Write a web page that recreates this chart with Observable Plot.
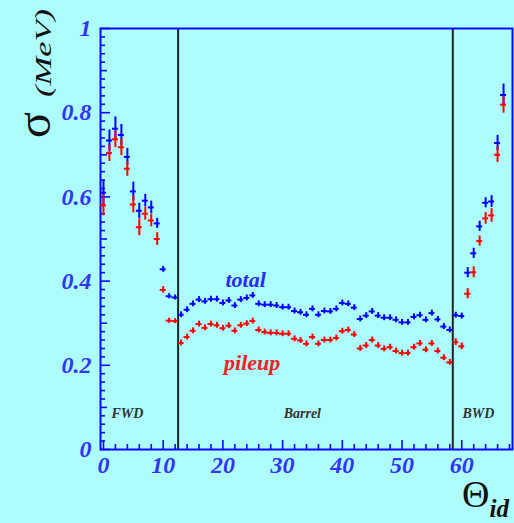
<!DOCTYPE html>
<html>
<head>
<meta charset="utf-8">
<script src="https://cdn.jsdelivr.net/npm/d3@7"></script>
<script src="https://cdn.jsdelivr.net/npm/@observablehq/plot@0.6"></script>
<style>
  html, body { margin: 0; padding: 0; background: #aefdfd; }
  #chart svg { display: block; }
</style>
</head>
<body>
<div id="chart"></div>
<script>
// Crystal index Θ_id
const thetaId = [
   0,  1,  2,  3,  4,  5,  6,  7,  8,  9, 10, 11, 12,
  13, 14, 15, 16, 17, 18, 19, 20, 21, 22, 23, 24, 25, 26, 27, 28, 29, 30,
  31, 32, 33, 34, 35, 36, 37, 38, 39, 40, 41, 42, 43, 44, 45, 46, 47, 48,
  49, 50, 51, 52, 53, 54, 55, 56, 57, 58,
  59, 60, 61, 62, 63, 64, 65, 66, 67
];

// total noise σ (MeV)
const totalSigma = [
  0.610, 0.734, 0.762, 0.747, 0.695, 0.613, 0.567, 0.591, 0.575, 0.537, 0.428, 0.364, 0.361,
  0.320, 0.332, 0.346, 0.356, 0.352, 0.357, 0.357, 0.348, 0.354, 0.342, 0.356, 0.360, 0.366, 0.346, 0.344, 0.344, 0.342, 0.338,
  0.338, 0.329, 0.326, 0.320, 0.334, 0.320, 0.329, 0.328, 0.334, 0.348, 0.346, 0.337, 0.310, 0.318, 0.328, 0.318, 0.313, 0.313,
  0.308, 0.302, 0.302, 0.315, 0.319, 0.308, 0.324, 0.309, 0.292, 0.284,
  0.319, 0.317, 0.420, 0.466, 0.530, 0.586, 0.589, 0.728, 0.842
];
const totalErr = [
  0.030, 0.025, 0.028, 0.025, 0.020, 0.022, 0.018, 0.015, 0.015, 0.012, 0.007, 0.006, 0.006,
  0.007, 0.007, 0.007, 0.007, 0.007, 0.007, 0.007, 0.007, 0.007, 0.007, 0.007, 0.007, 0.007, 0.007, 0.007, 0.007, 0.007, 0.007,
  0.007, 0.007, 0.007, 0.007, 0.007, 0.007, 0.007, 0.007, 0.007, 0.007, 0.007, 0.007, 0.007, 0.007, 0.007, 0.007, 0.007, 0.007,
  0.007, 0.007, 0.007, 0.007, 0.007, 0.007, 0.007, 0.007, 0.007, 0.007,
  0.007, 0.007, 0.012, 0.012, 0.012, 0.012, 0.014, 0.018, 0.026
];

// pileup noise σ (MeV)
const pileupSigma = [
  0.580, 0.704, 0.737, 0.718, 0.667, 0.582, 0.528, 0.560, 0.544, 0.500, 0.379, 0.306, 0.305,
  0.253, 0.267, 0.282, 0.298, 0.289, 0.298, 0.295, 0.288, 0.294, 0.282, 0.295, 0.299, 0.305, 0.284, 0.279, 0.277, 0.277, 0.275,
  0.275, 0.263, 0.259, 0.251, 0.267, 0.251, 0.260, 0.260, 0.265, 0.281, 0.284, 0.273, 0.240, 0.247, 0.260, 0.247, 0.239, 0.243,
  0.234, 0.229, 0.229, 0.243, 0.252, 0.237, 0.252, 0.234, 0.218, 0.207,
  0.255, 0.245, 0.370, 0.421, 0.495, 0.549, 0.556, 0.700, 0.819
];
const pileupErr = [
  0.025, 0.020, 0.020, 0.020, 0.018, 0.020, 0.020, 0.015, 0.015, 0.015, 0.008, 0.006, 0.006,
  0.007, 0.007, 0.007, 0.007, 0.007, 0.007, 0.007, 0.007, 0.007, 0.007, 0.007, 0.007, 0.007, 0.007, 0.007, 0.007, 0.007, 0.007,
  0.007, 0.007, 0.007, 0.007, 0.007, 0.007, 0.007, 0.007, 0.007, 0.007, 0.007, 0.007, 0.007, 0.007, 0.007, 0.007, 0.007, 0.007,
  0.007, 0.007, 0.007, 0.007, 0.007, 0.007, 0.007, 0.007, 0.007, 0.007,
  0.008, 0.008, 0.012, 0.013, 0.012, 0.014, 0.016, 0.018, 0.020
];

// detector regions
const regionEdges = [12.5, 58.5];
const regionNames = ["FWD", "Barrel", "BWD"];
const regionCenters = [4, 33.3, 62.8];

// axis ticks
const xTicks = [0, 10, 20, 30, 40, 50, 60];
const yTicks = [0, 0.2, 0.4, 0.6, 0.8, 1];

const rows = thetaId.map((t, i) => ({
  t,
  total: totalSigma[i], totalErr: totalErr[i],
  pileup: pileupSigma[i], pileupErr: pileupErr[i]
}));

const W = 514, H = 523;
const mL = 100, mR = 2, mT = 28, mB = 74;
const frameW = W - mL - mR, frameH = H - mT - mB;

const axisBlue = "#0a0aff";
const labelBlue = "#3434f4";
const serif = "Liberation Serif, Times New Roman, serif";

const xMinor = d3.range(0, 69, 2).filter(v => v % 10 !== 0);
const yMinor = d3.range(0, 51).map(i => i / 50).filter(v => Math.round(v * 100) % 10 !== 0);
const yMid = [0.1, 0.3, 0.5, 0.7, 0.9];

function errorCross(key, errKey, color) {
  return [
    Plot.ruleX(rows, {x: "t", y1: d => d[key] - d[errKey], y2: d => d[key] + d[errKey], stroke: color, strokeWidth: 2}),
    Plot.ruleY(rows, {y: key, x1: d => d.t - 0.5, x2: d => d.t + 0.5, stroke: color, strokeWidth: 2})
  ];
}

const chart = Plot.plot({
  width: W, height: H,
  marginLeft: mL, marginRight: mR, marginTop: mT, marginBottom: mB,
  style: {background: "#aefdfd", overflow: "hidden"},
  x: {domain: [-0.5, 68.5]},
  y: {domain: [0, 1]},
  marks: [
    // region boundaries
    Plot.ruleX(regionEdges, {stroke: "#222", strokeWidth: 2}),
    Plot.frame({stroke: axisBlue, strokeWidth: 2}),
    // inward ticks on the left axis
    Plot.tickY(yMinor, {stroke: axisBlue, strokeWidth: 1.6, insetRight: frameW - 5}),
    Plot.tickY(yMid, {stroke: axisBlue, strokeWidth: 1.6, insetRight: frameW - 7}),
    Plot.tickY(yTicks, {stroke: axisBlue, strokeWidth: 1.6, insetRight: frameW - 10}),
    // inward ticks on the bottom axis
    Plot.tickX(xMinor, {stroke: axisBlue, strokeWidth: 1.6, insetTop: frameH - 5}),
    Plot.tickX(xTicks, {stroke: axisBlue, strokeWidth: 1.6, insetTop: frameH - 9}),
    Plot.axisY({ticks: yTicks, tickSize: 0, tickPadding: 9,
      tickFormat: d => (d === 0 || d === 1) ? String(d) : d.toFixed(1),
      fontSize: 24, fontFamily: serif, fontWeight: "bold", fontStyle: "italic", fill: labelBlue, label: null}),
    Plot.axisX({ticks: xTicks, tickSize: 0, tickPadding: 6,
      fontSize: 24, fontFamily: serif, fontWeight: "bold", fontStyle: "italic", fill: labelBlue, label: null}),
    // data
    ...errorCross("total", "totalErr", "#0000ff"),
    ...errorCross("pileup", "pileupErr", "#ff0000"),
    // series labels
    Plot.text(["total"], {x: 23.8, y: 0.385, text: d => d, lineAnchor: "bottom", fill: "#2a2af5",
      fontSize: 22, fontFamily: serif, fontWeight: "bold", fontStyle: "italic"}),
    Plot.text(["pileup"], {x: 24.9, y: 0.188, text: d => d, lineAnchor: "bottom", fill: "#f52020",
      fontSize: 22, fontFamily: serif, fontWeight: "bold", fontStyle: "italic"}),
    // region names
    Plot.text(regionNames, {x: (d, i) => regionCenters[i], y: 0.075, text: d => d, lineAnchor: "bottom",
      fill: "#333", fontSize: 14, fontFamily: serif, fontWeight: "bold", fontStyle: "italic"})
  ]
});

// axis titles
const svg = d3.select(chart);
const titles = svg.append("g").attr("fill", "#111").attr("font-family", serif);
titles.append("text")
  .attr("transform", "translate(50,125) rotate(-90)")
  .attr("text-anchor", "middle")
  .attr("font-size", 48)
  .text("σ");
titles.append("text")
  .attr("transform", "translate(51,53) rotate(-90) scale(1.5,1)")
  .attr("text-anchor", "middle")
  .attr("font-size", 23)
  .attr("font-style", "italic")
  .text("(MeV)");
const xTitle = titles.append("text")
  .attr("x", 462).attr("y", 507)
  .attr("text-anchor", "start");
xTitle.append("tspan")
  .attr("font-size", 38)
  .text("Θ");
xTitle.append("tspan")
  .attr("dy", 10)
  .attr("font-size", 25)
  .attr("font-weight", "bold")
  .attr("font-style", "italic")
  .text("id");

document.getElementById("chart").appendChild(chart);
</script>
</body>
</html>
